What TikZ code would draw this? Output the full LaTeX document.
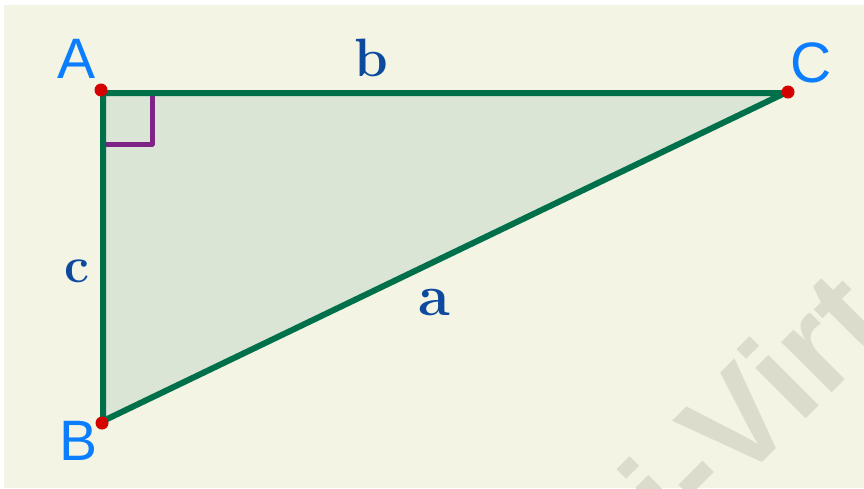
\documentclass[tikz,border=0pt]{standalone}
\usepackage{fontspec}
\newfontfamily\labfont{Liberation Sans}
\definecolor{bgcream}{HTML}{F3F4E3}
\definecolor{wmgray}{HTML}{DBDCCC}
\definecolor{trifill}{HTML}{DAE5D5}
\definecolor{edgegreen}{HTML}{00704A}
\definecolor{dotred}{HTML}{D50000}
\definecolor{markpurple}{HTML}{7D2486}
\definecolor{labelblue}{HTML}{0A7EFF}
\definecolor{sideblue}{HTML}{0D4A9E}
\begin{document}
\begin{tikzpicture}[x=1pt,y=-1pt,
  edge/.style={draw=edgegreen,line width=6pt,line join=round,line cap=round},
  anglemark/.style={draw=markpurple,line width=5pt,line join=round,line cap=round},
  vdot/.style={circle,fill=dotred,minimum size=13pt,inner sep=0pt},
  vlabel/.style={text=labelblue,font=\labfont\fontsize{57}{57}\selectfont,inner sep=0pt},
  slabel/.style={text=sideblue,inner sep=0pt},
  watermark/.style={text=wmgray,font=\labfont\bfseries\fontsize{135}{135}\selectfont,rotate=45,anchor=base west,inner sep=0pt}]
\fill[white] (0,0) rectangle (864,488);
\useasboundingbox (0,0) rectangle (864,488);
\fill[bgcream] (4,5) rectangle (864,488);
\begin{scope}
  \clip (4,5) rectangle (864,488);
  \node[watermark] (wm) at (679,546) {i-Virt};
\end{scope}
% triangle
\coordinate (A) at (103,93);
\coordinate (B) at (103,421);
\coordinate (C) at (785,93);
\fill[trifill] (A) -- (B) -- (C) -- cycle;
% right angle marker
\coordinate (m1) at (103,144);
\coordinate (m2) at (152,144);
\coordinate (m3) at (152,96);
\draw[anglemark] (m1) -- (m2) -- (m3);
\draw[edge] (A) -- (B) -- (C) -- cycle;
% vertex dots
\node[vdot] (dA) at (101,90) {};
\node[vdot] (dB) at (102,423) {};
\node[vdot] (dC) at (788,92) {};
% vertex labels
\node[vlabel] (lA) at (77,59) {A};
\node[vlabel] (lB) at (79,441) {B};
\node[vlabel] (lC) at (811,63) {C};
% side labels
\node[slabel,font=\bfseries\fontsize{54}{54}\selectfont] (lb) at (371,58) {b};
\node[slabel,font=\bfseries\fontsize{58}{58}\selectfont] (la) at (434,303) {a};
\node[slabel,font=\bfseries\fontsize{50}{50}\selectfont] (lc) at (77,271) {c};
\end{tikzpicture}
\end{document}
